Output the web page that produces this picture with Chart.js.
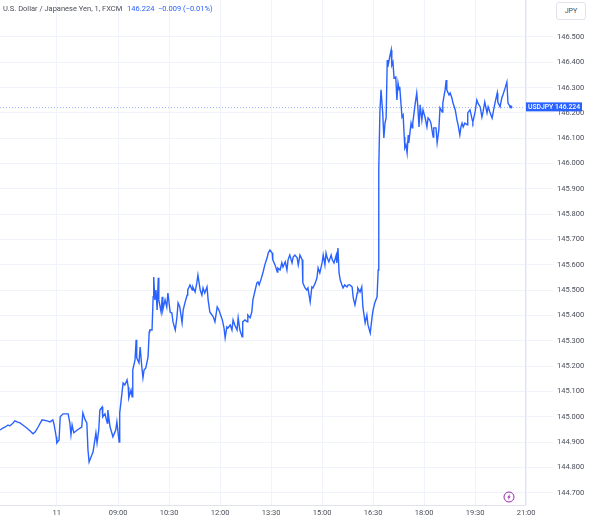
<!DOCTYPE html>
<html>
<head>
<meta charset="utf-8">
<script src="https://cdn.jsdelivr.net/npm/chart.js@4.4.1/dist/chart.umd.min.js"></script>
<style>
  html, body { margin: 0; padding: 0; background: #ffffff; }
  #wrap { position: relative; width: 589px; height: 522px; overflow: hidden; }
  canvas { position: absolute; left: 0; top: 0; }
  #hdr { position: absolute; left: 3px; top: 4px; font: 7.5px Roboto, "Liberation Sans", sans-serif; color: #4a4e59; white-space: nowrap; }
  #hdr .v { color: #2962FF; margin-left: 3px; }
  #jpy { position: absolute; left: 556px; top: 2px; width: 28px; height: 16px; border: 1px solid #e0e3eb; border-radius: 3px; font: 7px Roboto, sans-serif; color: #4a4e59; line-height: 16px; text-align: center; background: #fff; }
</style>
</head>
<body>
<div id="wrap">
  <canvas id="c" width="589" height="522"></canvas>
  <div id="hdr">U.S. Dollar / Japanese Yen, 1, FXCM <span class="v">146.224&nbsp;&nbsp;−0.009 (−0.01%)</span></div>
  <div id="jpy">JPY</div>
</div>
<script>
// time of each sample (minutes of the day) and USD/JPY price
const minutes = [332,337,341,346,349,353,355,358,362,367,372,379,385,390,394,399,406,415,420,425,427,431,432,436,438,443,452,455,457,459,462,468,476,478,482,485,487,489,494,496,501,503,506,
508,512,513,517,521,522,526,529,531,536,538,542,543,547,549,552,556,558,559,563,565,566,570,572,573,577,579,582,584,586,589,593,595,596,600,602,603,605,607,609,611,612,616,618,619,623,626,628,632,635,637,641,644,646,649,653,655,658,662,663,667,671,672,676,679,681,685,688,690,693,697,699,702,708,711,715,718,724,727,729,732,734,738,741,743,746,750,752,755,759,760,764,768,769,773,776,778,782,785,787,789,792,796,799,803,805,808,812,813,817,821,822,826,829,831,835,838,840,843,847,849,852,856,858,861,865,866,870,873,875,879,882,884,888,891,893,896,900,902,905,907,909,912,916,918,921,925,926,928,930,932,935,937,940,944,946,949,953,955,958,962,963,967,970,972,976,979,981,985,988,990,993,997,999,1000,1002,1004,1007,1009,1011,1013,1015,1016,1020,1022,1023,1025,1027,1030,1032,1034,1036,1037,1041,1043,1045,1046,1048,1050,1052,1053,1057,1059,1060,1064,1067,1069,1071,1073,1076,1078,1082,1085,1087,1090,1092,1096,1097,1101,1103,1106,1108,1112,1113,1117,1119,1120,1124,1126,1129,1131,1135,1138,1140,1143,1145,1147,1149,1152,1156,1157,1161,1165,1166,1170,1173,1175,1179,1182,1184,1187,1191,1193,1196,1200,1202,1205,1209,1210,1214,1217,1219,1223,1226,1228,1232,1233];
const prices = [144.948,144.956,144.960,144.968,144.964,144.972,144.976,144.984,144.980,144.976,144.968,144.956,144.944,144.933,144.941,144.960,144.988,144.984,144.980,144.988,144.972,144.921,144.897,144.909,145.000,145.012,145.012,144.976,144.929,144.968,144.937,144.948,144.960,145.016,144.988,144.976,144.869,144.822,144.850,144.862,144.937,144.897,144.948,
145.027,145.039,145.000,145.012,144.976,145.027,144.960,144.937,144.921,144.948,144.980,144.901,145.016,145.095,145.134,145.126,145.146,145.118,145.075,145.106,145.079,145.185,145.225,145.304,145.233,145.213,145.276,145.197,145.154,145.185,145.193,145.237,145.335,145.343,145.343,145.474,145.552,145.462,145.501,145.422,145.549,145.462,145.414,145.474,145.422,145.462,145.434,145.489,145.414,145.410,145.375,145.343,145.395,145.450,145.434,145.371,145.422,145.450,145.481,145.501,145.521,145.501,145.513,145.493,145.529,145.560,145.501,145.481,145.509,145.489,145.513,145.462,145.414,145.395,145.375,145.434,145.422,145.383,145.351,145.312,145.355,145.351,145.363,145.343,145.383,145.363,145.343,145.391,145.343,145.316,145.375,145.383,145.375,145.402,145.391,145.414,145.462,145.501,145.529,145.533,145.521,145.541,145.572,145.600,145.628,145.647,145.659,145.647,145.620,145.600,145.572,145.588,145.580,145.608,145.592,145.612,145.580,145.620,145.639,145.608,145.631,145.639,145.628,145.600,145.639,145.620,145.529,145.509,145.501,145.509,145.454,145.513,145.509,145.529,145.549,145.588,145.568,145.608,145.639,145.600,145.647,145.628,145.612,145.639,145.620,145.608,145.639,145.608,145.667,145.568,145.541,145.521,145.509,145.521,145.513,145.521,145.521,145.513,145.470,145.442,145.489,145.509,145.493,145.513,145.434,145.371,145.402,145.363,145.331,145.391,145.422,145.450,145.474,145.580,145.975,146.204,146.291,146.200,146.101,146.160,146.180,146.409,146.382,146.429,146.449,146.389,146.401,146.338,146.342,146.251,146.318,146.291,146.303,146.184,146.192,146.105,146.062,146.074,146.042,146.113,146.082,146.160,146.141,146.160,146.232,146.279,146.224,146.145,146.232,146.172,146.212,146.180,146.145,146.180,146.172,146.160,146.105,146.141,146.141,146.082,146.133,146.220,146.204,146.239,146.291,146.330,146.291,146.271,146.279,146.259,146.239,146.212,146.172,146.153,146.113,146.145,146.160,146.145,146.160,146.153,146.200,146.212,146.172,146.164,146.204,146.251,146.239,146.224,146.184,146.204,146.243,146.200,146.224,146.204,146.180,146.204,146.239,146.279,146.243,146.224,146.259,146.271,146.299,146.322,146.239,146.224,146.224];

const timeTickValues = [432, 540, 630, 720, 810, 900, 990, 1080, 1170, 1260];
const timeTickLabels = ["11", "09:00", "10:30", "12:00", "13:30", "15:00", "16:30", "18:00", "19:30", "21:00"];
const priceTicks = [144.7, 144.8, 144.9, 145.0, 145.1, 145.2, 145.3, 145.4, 145.5, 145.6, 145.7, 145.8, 145.9, 146.0, 146.1, 146.2, 146.3, 146.4, 146.5];
const symbolName = "USDJPY";
const lastPrice = 146.224;

const points = minutes.map((m, i) => ({ x: m, y: prices[i] }));
const FONT = 'Roboto, "Liberation Sans", sans-serif';

function noPad(axis) {
  axis.paddingTop = 0; axis.paddingBottom = 0; axis.paddingLeft = 0; axis.paddingRight = 0;
}

const overlay = {
  id: 'overlay',
  beforeDatasetsDraw(chart) {
    const { ctx, chartArea, scales } = chart;
    const y = Math.round(scales.y.getPixelForValue(lastPrice)) + 0.5;
    ctx.save();
    ctx.strokeStyle = 'rgba(41,98,255,0.45)';
    ctx.lineWidth = 1;
    ctx.setLineDash([1, 2]);
    ctx.beginPath();
    ctx.moveTo(chartArea.left, y);
    ctx.lineTo(chartArea.right, y);
    ctx.stroke();
    ctx.restore();
  },
  afterDraw(chart) {
    const { ctx, chartArea, scales } = chart;
    const y = scales.y.getPixelForValue(lastPrice);
    ctx.save();
    ctx.fillStyle = '#2962FF';
    ctx.fillRect(chartArea.right + 1, y - 4.5, 56, 9);
    ctx.fillStyle = '#ffffff';
    ctx.font = '500 6.8px ' + FONT;
    ctx.textBaseline = 'middle';
    ctx.textAlign = 'left';
    ctx.fillText(symbolName, chartArea.right + 3, y + 0.5);
    ctx.textAlign = 'right';
    ctx.fillText(lastPrice.toFixed(3), chartArea.right + 55, y + 0.5);
    const cx = 509, cy = 497;
    ctx.strokeStyle = '#9c27b0';
    ctx.lineWidth = 1;
    ctx.beginPath();
    ctx.arc(cx, cy, 5, 0, Math.PI * 2);
    ctx.stroke();
    ctx.fillStyle = '#9c27b0';
    ctx.beginPath();
    ctx.moveTo(cx + 1.2, cy - 3.2);
    ctx.lineTo(cx - 1.8, cy + 0.4);
    ctx.lineTo(cx - 0.1, cy + 0.4);
    ctx.lineTo(cx - 1.2, cy + 3.2);
    ctx.lineTo(cx + 1.8, cy - 0.4);
    ctx.lineTo(cx + 0.1, cy - 0.4);
    ctx.closePath();
    ctx.fill();
    ctx.restore();
  }
};

new Chart(document.getElementById('c'), {
  type: 'line',
  data: {
    datasets: [{
      data: points,
      borderColor: '#2962FF',
      borderWidth: 1.4,
      pointRadius: (c) => c.dataIndex === points.length - 1 ? 1.6 : 0,
      pointHoverRadius: 0,
      pointBackgroundColor: '#2962FF',
      pointBorderWidth: 0,
      tension: 0,
      fill: false
    }]
  },
  options: {
    responsive: false,
    animation: false,
    events: [],
    layout: { padding: 0, autoPadding: false },
    plugins: { legend: { display: false }, tooltip: { enabled: false }, title: { display: false } },
    scales: {
      x: {
        type: 'linear',
        min: 331.8,
        max: 1258,
        afterBuildTicks(axis) { axis.ticks = timeTickValues.map(v => ({ value: v })); },
        afterFit(axis) { axis.height = 17; noPad(axis); },
        grid: { color: '#f0f3fa', lineWidth: 1, drawTicks: false },
        border: { display: true, color: '#e0e3eb' },
        ticks: {
          autoSkip: false, maxRotation: 0, padding: 4,
          color: '#4a4e59',
          font: { size: 7.5, family: FONT },
          callback: (v, i) => timeTickLabels[i]
        }
      },
      y: {
        type: 'linear',
        position: 'right',
        min: 144.652,
        max: 146.646,
        afterBuildTicks(axis) { axis.ticks = priceTicks.map(v => ({ value: v })); },
        afterFit(axis) { axis.width = 64; noPad(axis); },
        grid: { color: '#f0f3fa', lineWidth: 1, drawTicks: true, tickLength: 28 },
        border: { display: true, color: '#e0e3eb' },
        ticks: {
          padding: 4,
          color: '#4a4e59',
          font: { size: 7.5, family: FONT },
          callback: (v) => Number(v).toFixed(3)
        }
      }
    }
  },
  plugins: [overlay]
});
</script>
</body>
</html>
